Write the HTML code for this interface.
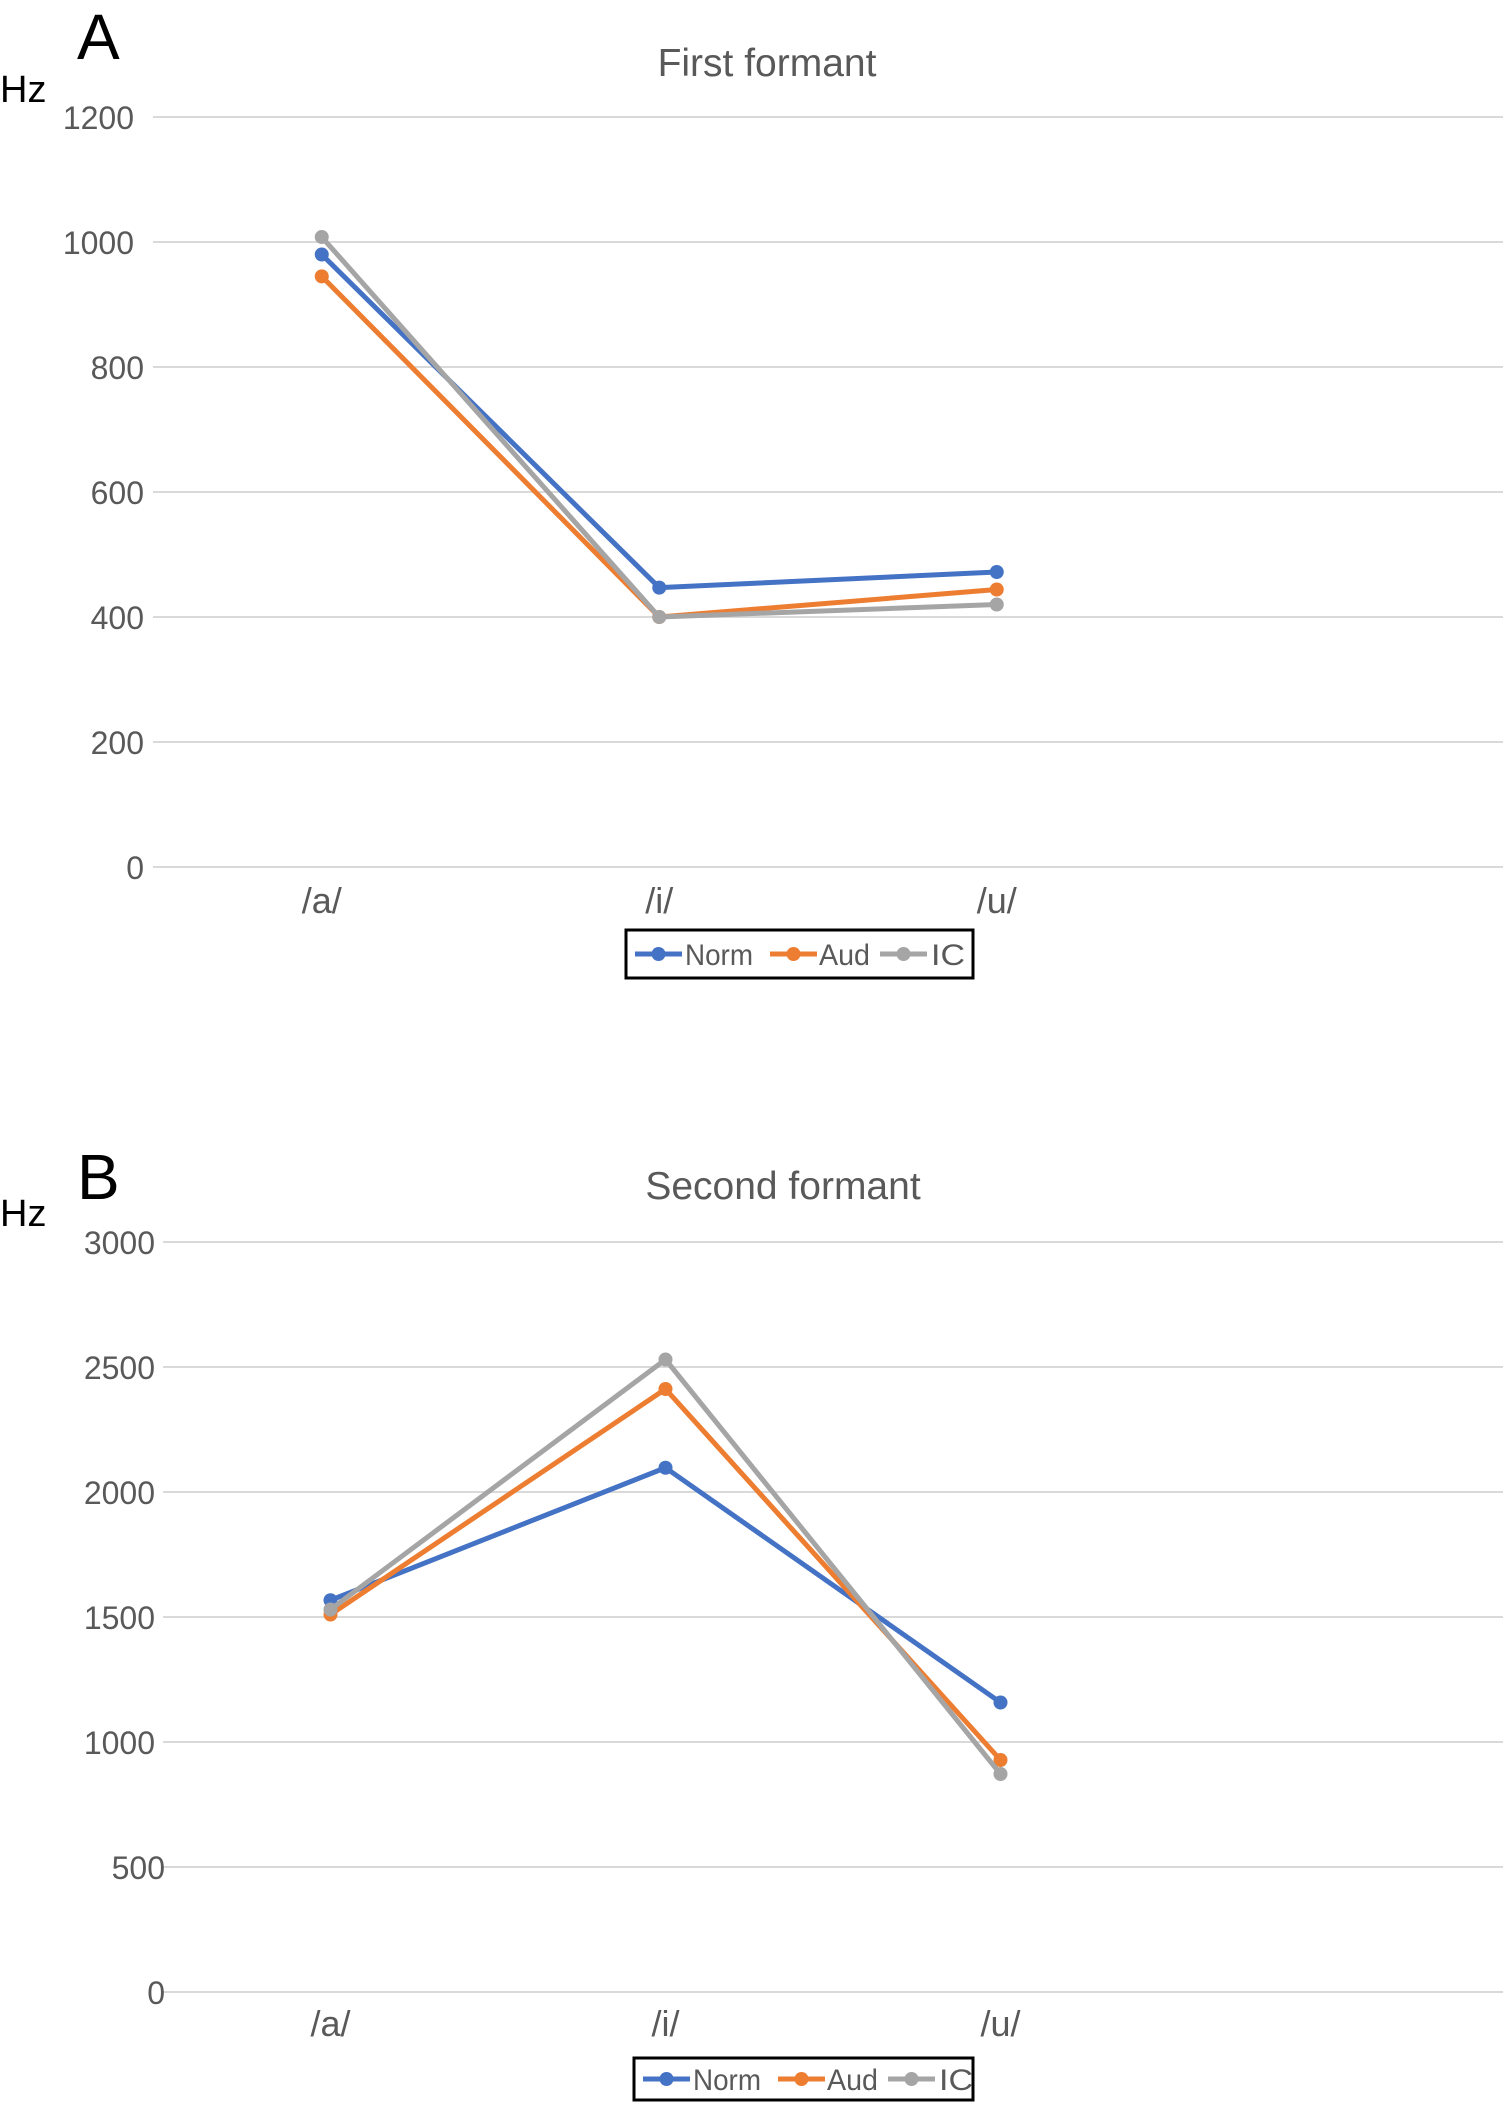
<!DOCTYPE html>
<html><head><meta charset="utf-8"><style>
html,body{margin:0;padding:0;background:#fff}
svg{display:block;font-family:"Liberation Sans",sans-serif}
</style></head><body>
<svg id="fig" width="1503" height="2102" viewBox="0 0 1503 2102">
<text x="77" y="59" font-size="64" fill="#000">A</text>
<text x="0" y="102" font-size="38" fill="#000">Hz</text>
<text x="767" y="76" font-size="39" fill="#595959" text-anchor="middle">First formant</text>
<text x="77" y="1199" font-size="64" fill="#000">B</text>
<text x="0" y="1226" font-size="38" fill="#000">Hz</text>
<text x="783" y="1199" font-size="39" fill="#595959" text-anchor="middle">Second formant</text>
<g id="chartA"></g>
<g id="chartB"></g>
</svg>
<script>
const categories = ['/a/', '/i/', '/u/'];
const seriesNames = ['Norm', 'Aud', 'IC'];
const seriesColors = ['#4472C4', '#ED7D31', '#A5A5A5'];
const f1Norm = [980, 447, 472];
const f1Aud = [945, 400, 444];
const f1IC = [1008, 400, 420];
const f1Ticks = [0, 200, 400, 600, 800, 1000, 1200];
const f2Norm = [1567, 2097, 1158];
const f2Aud = [1510, 2412, 928];
const f2IC = [1530, 2530, 872];
const f2Ticks = [0, 500, 1000, 1500, 2000, 2500, 3000];

const NS = 'http://www.w3.org/2000/svg';
function mk(parent, tag, attrs, text) {
  const e = document.createElementNS(NS, tag);
  for (const k in attrs) e.setAttribute(k, attrs[k]);
  if (text !== undefined) e.textContent = text;
  parent.appendChild(e);
  return e;
}
function drawChart(gid, cfg, data, ticks, prefix) {
  const g = document.getElementById(gid);
  const maxV = ticks[ticks.length - 1];
  const y = v => cfg.y0 - (v / maxV) * (cfg.y0 - cfg.yTop);
  const band = (cfg.x1 - cfg.x0) / 4;
  const x = i => cfg.x0 + band * (i + 0.5);
  ticks.forEach(t => {
    const l = mk(g, 'line', {x1: cfg.x0, x2: cfg.x1, y1: y(t), y2: y(t), stroke: '#d9d9d9', 'stroke-width': 2});
    
    
    const s = String(t);
    const tx = mk(g, 'text', {x: cfg.labX - (s.length >= 4 ? 10 : 0), y: y(t) + 12, 'font-size': 32, fill: '#595959', 'text-anchor': 'end'}, s);
    
    
  });
  categories.forEach((c, i) => {
    const tx = mk(g, 'text', {x: x(i), y: cfg.catY, 'font-size': 36, fill: '#595959', 'text-anchor': 'middle'}, c);
    
    
  });
  data.forEach((vals, si) => {
    const pts = vals.map((v, i) => x(i) + ',' + y(v)).join(' ');
    const pl = mk(g, 'polyline', {points: pts, fill: 'none', stroke: seriesColors[si], 'stroke-width': 5, 'stroke-linejoin': 'round'});
    
    
    vals.forEach((v, i) => {
      const c = mk(g, 'circle', {cx: x(i), cy: y(v), r: 7, fill: seriesColors[si]});
      
      
    });
  });
  const L = cfg.leg;
  const box = mk(g, 'rect', {x: L.x, y: L.y, width: L.w, height: L.h, fill: '#fff', stroke: '#000', 'stroke-width': 3});
  
  
  const lx = [L.x + 9, L.x + 144, L.x + 254];
  const tx = [L.x + 59, L.x + 193, L.x + 305];
  const cy = L.y + L.h / 2;
  seriesNames.forEach((n, si) => {
    const ln = mk(g, 'line', {x1: lx[si], x2: lx[si] + 47, y1: cy, y2: cy, stroke: seriesColors[si], 'stroke-width': 5});
    
    
    const cc = mk(g, 'circle', {cx: lx[si] + 23.5, cy: cy, r: 7, fill: seriesColors[si]});
    
    
    const t = mk(g, 'text', {x: tx[si], y: cy + 11, 'font-size': 30, fill: '#595959', textLength: (n.length * 17), lengthAdjust: 'spacingAndGlyphs'}, n);
    
    
  });
}
drawChart('chartA', {x0: 153, x1: 1503, y0: 867, yTop: 117, labX: 144, catY: 913,
  leg: {x: 626, y: 930, w: 347, h: 48}}, [f1Norm, f1Aud, f1IC], f1Ticks, 'f1');
drawChart('chartB', {x0: 163, x1: 1503, y0: 1992, yTop: 1242, labX: 165, catY: 2036,
  leg: {x: 634, y: 2058, w: 339, h: 42}}, [f2Norm, f2Aud, f2IC], f2Ticks, 'f2');
</script>
</body></html>
